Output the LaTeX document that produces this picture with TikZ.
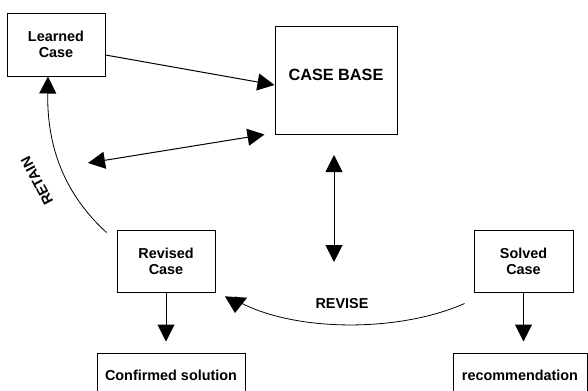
\documentclass[tikz,border=0pt]{standalone}
\usepackage{fontspec}
\setmainfont{Liberation Sans}
\usetikzlibrary{arrows.meta, calc}

\begin{document}
\begin{tikzpicture}[x=0.75pt, y=-0.75pt,
  box/.style={draw, line width=0.75pt, fill=white, align=center, inner sep=0pt,
    font=\fontsize{10.8}{12}\selectfont\bfseries},
  lbl/.style={font=\fontsize{10.8}{12}\selectfont\bfseries},
  arr/.style={line width=0.75pt, -{Triangle[length=12.75pt, width=12.75pt]}},
  darr/.style={line width=0.75pt, {Triangle[length=12.75pt, width=12.75pt]}-{Triangle[length=12.75pt, width=12.75pt]}},
  curvearr/.style={line width=0.6pt}]
\useasboundingbox (0,0) rectangle (588,390);
\node[box, minimum width=73.5pt, minimum height=47.25pt] (learned) at (56,44.5) {Learned\\Case};
\node[box, minimum width=91.5pt, minimum height=81pt] (casebase) at (336,80) {};
\node[font=\fontsize{12.2}{14}\selectfont\bfseries] (baselbl) at (336,75) {CASE BASE};
\node[box, minimum width=73.5pt, minimum height=46.5pt] (revised) at (166,261) {Revised\\Case};
\node[box, minimum width=74.25pt, minimum height=46.5pt] (solved) at (523.5,261) {Solved\\Case};
\node[box, minimum width=111pt, minimum height=33pt] (confirmed) at (171,375) {Confirmed solution};
\node[box, minimum width=100.5pt, minimum height=33pt] (recomm) at (520,375) {recommendation};
\coordinate (left) at (88,163);
\coordinate (vtop) at (334,155);
\coordinate (vbot) at (334,262);
% arrows
\draw[arr] ([yshift=-7.875pt]learned.east) -- ([yshift=-3.75pt]casebase.west);
\draw[darr] (left) -- ([xshift=-7.5pt]casebase.south west);
\draw[darr] (vtop) -- (vbot);
\draw[arr] (revised.south) -- ([yshift=8.25pt]revised.south |- confirmed.north);
\draw[arr] (solved.south) -- ([yshift=8.25pt]solved.south |- recomm.north);
% retain and revise
\draw[curvearr, -{Triangle[length=12.75pt, width=12.75pt]}] ([shift={(-7.5pt,-2.25pt)}]revised.north west)
  .. controls (60,190) and (47,140) .. ([xshift=-6pt]learned.south);
\draw[curvearr, -{Triangle[length=12pt, width=16.5pt]}] ([shift={(-6.75pt,-8.25pt)}]solved.south west)
  .. controls (400,332) and (300,332) .. (243,304) -- (236,297) -- (235,313);
\node[lbl, rotate=118] (retainlbl) at (37,181) {RETAIN};
\node[lbl] (reviselbl) at (342,303.5) {REVISE};
\end{tikzpicture}
\end{document}
